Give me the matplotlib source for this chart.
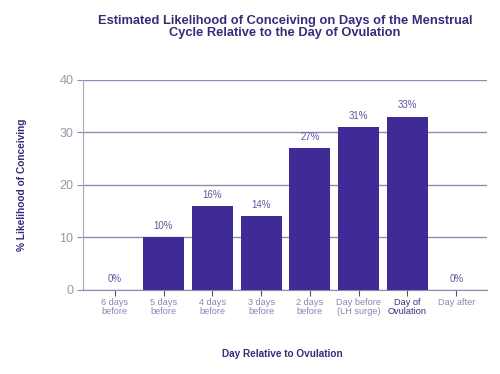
import matplotlib.pyplot as plt

plt.rcParams['font.family'] = ['Liberation Sans', 'DejaVu Sans']

days = ['6 days\nbefore', '5 days\nbefore', '4 days\nbefore', '3 days\nbefore',
        '2 days\nbefore', 'Day before\n(LH surge)', 'Day of\nOvulation', 'Day after']
likelihood = [0, 10, 16, 14, 27, 31, 33, 0]
labels = ['0%', '10%', '16%', '14%', '27%', '31%', '33%', '0%']
yticks = [0, 10, 20, 30, 40]

bar_col = '#3f2a96'
grid_col = '#8f8bb0'
text_col = '#8a86b4'
title_col = '#3a2a7a'

fig = plt.figure(figsize=(5, 3.74), dpi=100)
ax = fig.add_axes([0.166, 0.2246, 0.808, 0.5615])

x = list(range(len(days)))
ax.bar(x, likelihood, width=0.84, color=bar_col, zorder=3)
for i in x:
    ax.text(i, likelihood[i] + 1.2, labels[i], ha='center', va='bottom',
            fontsize=7, color='#5e58a0', zorder=4)

ax.set_xlim(-0.65, 7.63)
ax.set_ylim(0, 40)
ax.set_yticks(yticks)
ax.set_yticklabels([str(v) for v in yticks], fontsize=9, color='#9a98a8')
ax.set_xticks(x)
ax.set_xticklabels(days, fontsize=6.6, color=text_col, linespacing=1.0)
ax.get_xticklabels()[6].set_color('#3a2a7a')
ax.tick_params(axis='x', length=4, color='#555', pad=2)
ax.tick_params(axis='y', length=4, color=grid_col, pad=3)
ax.yaxis.grid(True, color=grid_col, linewidth=1.0, zorder=0)

for s in ['top', 'right']:
    ax.spines[s].set_visible(False)
ax.spines['left'].set_color('#aaa8bc')
ax.spines['bottom'].set_color(grid_col)

fig.text(0.57, 0.928, 'Estimated Likelihood of Conceiving on Days of the Menstrual\n'
         'Cycle Relative to the Day of Ovulation', ha='center', va='center',
         fontsize=9.3, fontweight='bold', color=title_col, linespacing=1.05)
fig.text(0.045, 0.505, '% Likelihood of Conceiving', rotation=90, ha='center',
         va='center', fontsize=7.3, fontweight='bold', color=title_col)
fig.text(0.565, 0.053, 'Day Relative to Ovulation', ha='center', va='center',
         fontsize=7.2, fontweight='bold', color=title_col)

fig.savefig('out.png', dpi=100)
